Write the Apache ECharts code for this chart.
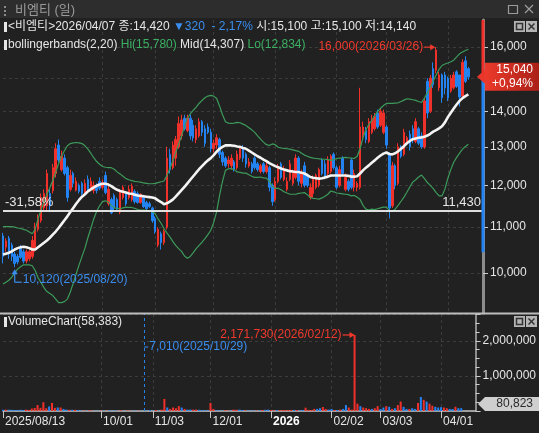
<!DOCTYPE html>
<html>
<head>
<meta charset="utf-8">
<script src="https://cdn.jsdelivr.net/npm/echarts@6/dist/echarts.min.js"></script>
<style>
  html, body { margin: 0; padding: 0; background: #212121; }
  #chart { width: 539px; height: 433px; }
</style>
</head>
<body>
<div id="chart"></div>
<script>
// trading calendar (KRX closed days inside the window)
const holidays = ['2025/08/15', '2025/10/03', '2025/10/06', '2025/10/07', '2025/10/08', '2025/10/09',
  '2025/12/25', '2025/12/31', '2026/01/01', '2026/02/16', '2026/02/17', '2026/02/18', '2026/03/02']
const slotCount = 165

const labelDates = ['2025/08/13', '2025/10/01', '2025/11/03', '2025/12/01', '2026/01/02', '2026/02/02', '2026/03/03', '2026/04/01']
const labelTexts = ['2025/08/13', '10/01', '11/03', '12/01', '2026', '02/02', '03/03', '04/01']

const priceTicks = [10000, 11000, 12000, 13000, 14000, 15000, 16000]

const opens = [
  10800, 10550, 10750, 10600, 10400, 10350, 10530, 10450, 10250, 10300,
  10350, 10500, 10950, 11150, 11450, 11500, 11800, 11870, 12300, 13050,
  12400, 12700, 12450, 11900, 12300, 11880, 12000, 12050, 11800, 12150,
  11900, 11870, 11950, 12100, 11950, 12250, 11550, 11650, 11750, 11650,
  11350, 11700, 11800, 11700, 11650, 11850, 11800, 11580, 11700, 11580,
  11550, 11450, 11200, 10600, 10850, 10650, 11000, 12800, 12450, 12700,
  13000, 13300, 13800, 13450, 13800, 13600, 13200, 13300, 13700, 13500,
  13550, 13400, 12950, 13050, 13200, 12850, 12700, 12550, 12500, 12600,
  12450, 12700, 12950, 12800, 12500, 12550, 12700, 12550, 12350, 12550,
  12350, 12450, 12000, 11650, 12100, 12550, 12150, 11900, 12150, 12050,
  12200, 12700, 12050, 12500, 12250, 11700, 11800, 11950, 12000, 12650,
  12550, 12300, 12350, 12800, 12450, 12000, 12700, 11900, 12100, 12650,
  11950, 11950, 11950, 13300, 13450, 13150, 13400, 13500, 13950, 13600,
  13400, 13550, 12800, 11500, 12500, 12050, 13000, 12800, 13100, 13350,
  13500, 13150, 13500, 13300, 13000, 14900, 14000, 15300, 15250, 14700,
  15100, 15100, 15000, 14600, 14700, 15200, 15100, 14450, 15550, 15300
]
const highs = [
  10870, 10750, 10800, 10650, 10450, 10400, 10600, 10500, 10500, 10500,
  10800, 11100, 11300, 11800, 11900, 12400, 11900, 12550, 13100, 13200,
  12900, 12800, 12500, 12400, 12350, 12200, 12050, 12100, 12150, 12250,
  12200, 12100, 12050, 12200, 12150, 12350, 12000, 11700, 11800, 11700,
  11900, 12000, 11850, 12000, 12050, 11900, 11850, 11800, 11750, 11620,
  11600, 11480, 11250, 11000, 10900, 10950, 13000, 12950, 13150, 13300,
  13850, 13900, 13900, 13900, 13900, 13750, 13600, 13800, 13750, 13600,
  13650, 13500, 13200, 13350, 13250, 12900, 12750, 12750, 12800, 12650,
  12900, 13000, 13050, 12850, 12700, 12600, 12750, 12600, 12550, 12600,
  12600, 12500, 12050, 12200, 12550, 12600, 12500, 12200, 12650, 12400,
  12800, 12750, 12400, 12600, 12300, 12050, 12250, 12300, 12450, 12700,
  12650, 12750, 12800, 12850, 12500, 12500, 12750, 12300, 12150, 12700,
  12400, 12100, 14700, 13700, 13550, 13800, 13900, 13950, 14050, 14100,
  14050, 13600, 12850, 12600, 12550, 13100, 13050, 13500, 13300, 13450,
  13600, 13800, 13550, 13400, 14400, 15000, 15100, 15500, 16000, 15200,
  15150, 15200, 15050, 15100, 15200, 15250, 15100, 15600, 15700, 15350
]
const lows = [
  10200, 10450, 10300, 10250, 10120, 10180, 10300, 10200, 10200, 10250,
  10300, 10450, 10900, 11100, 11400, 11380, 11350, 11800, 12200, 12600,
  12350, 12250, 11600, 11850, 11950, 11850, 11800, 11750, 11750, 11800,
  11850, 11800, 11800, 11880, 11900, 11780, 11500, 11300, 11400, 11380,
  11300, 11650, 11500, 11650, 11600, 11550, 11550, 11550, 11450, 11400,
  11450, 11100, 10850, 10550, 10500, 10600, 10950, 12300, 12400, 12500,
  12950, 13200, 13450, 13400, 13200, 13150, 13100, 13250, 13300, 13000,
  13350, 12850, 12850, 12950, 12700, 12500, 12450, 12450, 12400, 12350,
  12400, 12650, 12600, 12450, 12450, 12300, 12400, 12350, 12300, 12300,
  12300, 11850, 11500, 11600, 12050, 12150, 12100, 11850, 12100, 12000,
  12150, 12000, 11950, 11950, 11950, 11650, 11700, 11900, 11950, 12250,
  12150, 12250, 12300, 12400, 11900, 11950, 12250, 11850, 11850, 11900,
  11850, 11850, 11900, 13200, 13100, 13100, 13350, 13450, 13500, 13550,
  13350, 12950, 11200, 11450, 11900, 12000, 12700, 12750, 13050, 12900,
  13100, 13100, 13050, 12950, 12950, 13800, 13950, 14700, 15150, 14600,
  14250, 14500, 14300, 14550, 14650, 14700, 14140, 14400, 14850, 14950
]
const closes = [
  10350, 10690, 10400, 10350, 10200, 10230, 10330, 10250, 10450, 10450,
  10700, 11000, 11200, 11700, 11800, 12300, 11500, 12450, 12950, 12650,
  12750, 12300, 11700, 12250, 12050, 12100, 11850, 11800, 12050, 11850,
  12100, 12000, 11870, 11930, 12070, 11820, 11900, 11330, 11450, 11420,
  11850, 11950, 11550, 11900, 11980, 11600, 11580, 11780, 11480, 11430,
  11480, 11150, 10900, 10950, 10650, 10900, 12700, 12400, 13050, 13200,
  13650, 13750, 13500, 13800, 13300, 13250, 13500, 13700, 13400, 13100,
  13400, 12950, 13100, 13250, 12800, 12600, 12500, 12650, 12700, 12400,
  12800, 12950, 12700, 12550, 12600, 12350, 12450, 12400, 12500, 12350,
  12500, 11950, 11600, 12100, 12450, 12200, 12400, 12100, 12550, 12350,
  12700, 12100, 12300, 12000, 12000, 11950, 12150, 12250, 12400, 12300,
  12200, 12650, 12750, 12450, 11950, 12400, 12300, 12200, 11900, 11950,
  12300, 12050, 13550, 13550, 13200, 13700, 13800, 13850, 13550, 14000,
  13950, 13050, 11450, 12500, 12000, 13000, 12750, 13400, 13250, 13000,
  13200, 13700, 13100, 13000, 14300, 13950, 15000, 14800, 15900, 15100,
  14400, 14700, 14400, 15000, 15100, 14740, 14420, 15500, 14900, 15040
]
const volumes = [
  35000, 40000, 38000, 35000, 30000, 25000, 35000, 30000, 38000, 30000,
  70000, 85000, 170000, 90000, 250000, 80000, 130000, 230000, 90000, 100000,
  100000, 60000, 40000, 35000, 35000, 35000, 30000, 12000, 9000, 8000,
  20000, 9000, 8000, 8000, 9000, 12000, 8000, 20000, 9000, 18000,
  8000, 18000, 8000, 9000, 9000, 8000, 8000, 9000, 8000, 7010,
  9000, 25000, 12000, 28000, 12000, 40000, 345000, 100000, 60000, 100000,
  80000, 140000, 100000, 60000, 40000, 40000, 40000, 40000, 35000, 30000,
  20000, 15000, 230000, 60000, 20000, 15000, 12000, 15000, 12000, 12000,
  40000, 35000, 40000, 30000, 15000, 12000, 12000, 15000, 12000, 15000,
  30000, 35000, 40000, 25000, 20000, 30000, 25000, 30000, 30000, 25000,
  30000, 30000, 25000, 20000, 30000, 95000, 30000, 30000, 60000, 60000,
  80000, 115000, 60000, 40000, 60000, 30000, 30000, 40000, 60000, 170000,
  100000, 40000, 2171730, 210000, 140000, 100000, 80000, 60000, 60000, 80000,
  140000, 60000, 100000, 140000, 120000, 60000, 80000, 170000, 270000, 120000,
  60000, 60000, 80000, 60000, 230000, 400000, 320000, 270000, 210000, 150000,
  120000, 100000, 110000, 100000, 80000, 60000, 58383, 120000, 80000, 80823
]
// bollingerbands(2,20) as drawn
const bbUpper = [
  11010, 11010, 11010, 11010, 11000, 10980, 10970, 10950, 10930, 10890,
  10850, 10950, 11200, 11400, 11600, 11780, 11940, 12120, 12330, 12560,
  12740, 12900, 13030, 13090, 13110, 13120, 13110, 13090, 13030, 12940,
  12830, 12710, 12610, 12540, 12480, 12460, 12450, 12450, 12410, 12340,
  12290, 12230, 12170, 12140, 12120, 12100, 12090, 12080, 12060, 12050,
  12040, 12040, 12050, 12070, 12090, 12110, 12250, 12420, 12620, 12850,
  13080, 13300, 13560, 13790, 13930, 14030, 14120, 14230, 14320, 14400,
  14450, 14470, 14450, 14380, 14150, 13900, 13700, 13660, 13650, 13660,
  13680, 13670, 13630, 13590, 13530, 13470, 13400, 13300, 13210, 13130,
  13060, 13040, 13080, 13060, 12990, 12970, 12960, 12950, 12940, 12920,
  12900, 12880, 12830, 12780, 12750, 12720, 12700, 12690, 12680, 12670,
  12670, 12660, 12640, 12660, 12690, 12700, 12710, 12720, 12710, 12700,
  12690, 12750, 12950, 13250, 13480, 13620, 13740, 13870, 13990, 14090,
  14170, 14230, 14230, 14230, 14240, 14250, 14290, 14330, 14370, 14360,
  14340, 14320, 14290, 14260, 14390, 14550, 14720, 14920, 15100, 15280,
  15400, 15450, 15480, 15520, 15570, 15680, 15780, 15840, 15890, 15930
]
const bbMid = [
  10390, 10410, 10430, 10460, 10500, 10530, 10550, 10560, 10550, 10530,
  10500, 10500, 10550, 10600, 10650, 10700, 10760, 10830, 10900, 10980,
  11070, 11160, 11250, 11350, 11450, 11550, 11640, 11720, 11780, 11850,
  11900, 11950, 11990, 12020, 12040, 12040, 12020, 11980, 11930, 11890,
  11860, 11840, 11820, 11800, 11790, 11770, 11750, 11740, 11730, 11720,
  11710, 11700, 11680, 11630, 11590, 11540, 11560, 11600, 11650, 11720,
  11800, 11880, 11960, 12050, 12140, 12230, 12320, 12410, 12490, 12570,
  12640, 12700, 12780, 12870, 12950, 13000, 13040, 13040, 13040, 13030,
  13010, 13000, 12970, 12950, 12900, 12850, 12800, 12750, 12710, 12660,
  12620, 12570, 12530, 12490, 12460, 12430, 12400, 12380, 12360, 12350,
  12340, 12340, 12320, 12300, 12260, 12210, 12190, 12180, 12170, 12180,
  12200, 12220, 12250, 12250, 12250, 12250, 12250, 12250, 12240, 12220,
  12220, 12230, 12300, 12380, 12450, 12510, 12580, 12640, 12710, 12770,
  12820, 12850, 12810, 12800, 12830, 12880, 12950, 13020, 13100, 13160,
  13210, 13230, 13250, 13260, 13280, 13310, 13360, 13420, 13460, 13510,
  13570, 13680, 13830, 13960, 14080, 14200, 14307, 14390, 14450, 14500
]
const bbLower = [
  9770, 9810, 9850, 9910, 10000, 10080, 10130, 10170, 10170, 10170,
  10150, 10050, 9900, 9800, 9700, 9620, 9580, 9540, 9470, 9400,
  9400, 9420, 9470, 9610, 9790, 9980, 10170, 10350, 10530, 10760,
  10970, 11190, 11370, 11500, 11600, 11620, 11590, 11510, 11450, 11440,
  11430, 11450, 11470, 11460, 11460, 11440, 11410, 11400, 11400, 11390,
  11380, 11360, 11310, 11190, 11090, 10970, 10870, 10780, 10680, 10590,
  10520, 10460, 10360, 10310, 10350, 10430, 10520, 10590, 10660, 10740,
  10830, 10930, 11110, 11360, 11750, 12100, 12380, 12420, 12430, 12400,
  12340, 12330, 12310, 12310, 12270, 12230, 12200, 12200, 12210, 12190,
  12180, 12100, 11980, 11920, 11930, 11890, 11840, 11810, 11780, 11780,
  11780, 11800, 11810, 11820, 11770, 11700, 11680, 11670, 11660, 11690,
  11730, 11780, 11860, 11840, 11810, 11800, 11790, 11780, 11770, 11740,
  11750, 11710, 11650, 11510, 11420, 11400, 11420, 11410, 11430, 11450,
  11470, 11470, 11390, 11370, 11420, 11510, 11610, 11710, 11830, 11960,
  12080, 12140, 12210, 12260, 12170, 12070, 12000, 11920, 11820, 11740,
  11740, 11910, 12180, 12400, 12590, 12720, 12834, 12940, 13010, 13070
]

// annotations
const peak = { date: '2026/03/26', price: 16000 }
const trough = { date: '2025/08/20', price: 10120 }
const refLine = { price: 11430, pct: '-31,58%' }
const lastPrice = { price: 15040, change: '+0,94%' }
const askRangeLow = 10440
const volPeak = { date: '2026/02/12', value: 2171730 }
const volTrough = { date: '2025/10/29', value: 7010 }
const lastVolume = 80823

const FONT = "'Liberation Sans', 'Noto Sans CJK KR', sans-serif"
const UP = '#f0302a'
const DOWN = '#2383f0'
const BAND = '#3c9a5a'
const GRIDLINE = '#3c3c3c'

const dates = (() => {
  const out = []
  const d = new Date(2025, 7, 13)
  while (out.length < slotCount) {
    const s = `${d.getFullYear()}/${String(d.getMonth() + 1).padStart(2, '0')}/${String(d.getDate()).padStart(2, '0')}`
    const wd = d.getDay()
    if (wd !== 0 && wd !== 6 && !holidays.includes(s)) out.push(s)
    d.setDate(d.getDate() + 1)
  }
  return out
})()

const fmt = n => Math.round(n).toLocaleString('en-US')
const ln = Math.log
const isLabelDay = (i, v) => labelDates.includes(v)
const isSplitDay = (i, v) => labelDates.includes(v) && i > 0

const candles = opens.map((o, i) => [ln(o), ln(closes[i]), ln(lows[i]), ln(highs[i])])
const volumeBars = volumes.map((v, i) => ({
  value: v,
  itemStyle: { color: closes[i] >= opens[i] ? UP : DOWN }
}))

const yMin = ln(9200)
const yMax = ln(16930)
const volMax = 2771000

const chart = echarts.init(document.getElementById('chart'))

chart.setOption({
  animation: false,
  backgroundColor: '#212121',
  textStyle: { fontFamily: FONT },
  grid: [
    { left: 3, top: 20, width: 480, height: 293 },
    { left: 3, top: 314, width: 480, height: 97 }
  ],
  xAxis: [
    {
      type: 'category', gridIndex: 0, data: dates, boundaryGap: false,
      axisLine: { show: false }, axisTick: { show: false }, axisLabel: { show: false },
      splitLine: { show: true, interval: isSplitDay, lineStyle: { color: GRIDLINE, type: [3, 3] } }
    },
    {
      type: 'category', gridIndex: 1, data: dates, boundaryGap: false,
      axisLine: { lineStyle: { color: '#c4c4c4', width: 1.5 } },
      axisTick: { show: true, interval: isLabelDay, length: 7, lineStyle: { color: '#c4c4c4' } },
      axisLabel: {
        interval: isLabelDay, align: 'left', margin: 5, padding: [0, 0, 0, 2],
        formatter: v => {
          const t = labelTexts[labelDates.indexOf(v)]
          return t === '2026' ? '{b|' + t + '}' : '{n|' + t + '}'
        },
        rich: {
          n: { color: '#e6e6e6', fontSize: 12, fontFamily: FONT },
          b: { color: '#ffffff', fontSize: 12, fontWeight: 'bold', fontFamily: FONT }
        }
      },
      splitLine: { show: true, interval: isSplitDay, lineStyle: { color: GRIDLINE, type: [3, 3] } }
    }
  ],
  yAxis: [
    {
      type: 'value', gridIndex: 0, position: 'right', min: yMin, max: yMax,
      axisLine: { show: true, lineStyle: { color: '#8c8c8c', width: 3 } },
      axisTick: { show: true, customValues: priceTicks.map(ln), length: 5, lineStyle: { color: '#cccccc' } },
      axisLabel: {
        customValues: priceTicks.map(ln), margin: 7,
        formatter: v => fmt(Math.exp(v)), color: '#e6e6e6', fontSize: 12, fontFamily: FONT
      },
      splitLine: { show: true, lineStyle: { color: GRIDLINE, type: [3, 3] } }
    },
    {
      type: 'value', gridIndex: 1, position: 'right', min: 0, max: volMax, interval: 1000000,
      axisLine: { show: true, lineStyle: { color: '#8c8c8c', width: 2 } },
      axisTick: { show: true, length: 5, lineStyle: { color: '#cccccc' } },
      minorTick: { show: true, splitNumber: 4, length: 4, lineStyle: { color: '#cccccc' } },
      axisLabel: {
        margin: 7, showMinLabel: false, showMaxLabel: false,
        formatter: v => (v > 0 && v % 1000000 === 0 ? fmt(v) : ''),
        color: '#e6e6e6', fontSize: 12, fontFamily: FONT
      },
      splitLine: { show: true, lineStyle: { color: GRIDLINE, type: [3, 3] } }
    }
  ],
  series: [
    {
      type: 'candlestick', xAxisIndex: 0, yAxisIndex: 0, data: candles, barWidth: 2, z: 2,
      itemStyle: { color: UP, color0: DOWN, borderColor: UP, borderColor0: DOWN, borderWidth: 1 },
      markLine: {
        silent: true, symbol: ['none', 'none'],
        lineStyle: { color: '#ececec', width: 1.5, type: 'solid' },
        label: { color: '#e6e6e6', fontSize: 13, fontFamily: FONT, distance: 2 },
        data: [
          { yAxis: ln(refLine.price), label: { position: 'insideStartTop', formatter: refLine.pct } },
          { yAxis: ln(refLine.price), label: { position: 'insideEndTop', formatter: fmt(refLine.price) } }
        ]
      }
    },
    { type: 'line', xAxisIndex: 0, yAxisIndex: 0, data: bbUpper.map(ln), symbol: 'none', z: 3, lineStyle: { color: BAND, width: 1.2 } },
    { type: 'line', xAxisIndex: 0, yAxisIndex: 0, data: bbLower.map(ln), symbol: 'none', z: 3, lineStyle: { color: BAND, width: 1.2 } },
    { type: 'line', xAxisIndex: 0, yAxisIndex: 0, data: bbMid.map(ln), symbol: 'none', z: 4, lineStyle: { color: '#f4f4f4', width: 2.6 } },
    {
      type: 'bar', xAxisIndex: 1, yAxisIndex: 1, data: volumeBars, barWidth: 2, z: 2,
      markLine: {
        silent: true, symbol: ['none', 'none'], label: { show: false },
        lineStyle: { color: DOWN, width: 1, type: [3, 3] },
        data: [{ xAxis: volTrough.date }]
      }
    }
  ]
})

// overlay: header, annotations, value boxes
const idx = d => dates.indexOf(d)
const pricePx = (d, p) => chart.convertToPixel({ gridIndex: 0 }, [idx(d), ln(p)])
const volPx = (d, v) => chart.convertToPixel({ gridIndex: 1 }, [idx(d), v])
const priceY = p => chart.convertToPixel({ yAxisIndex: 0 }, ln(p))
const axisX = chart.convertToPixel({ xAxisIndex: 0 }, slotCount - 1)

const txt = (x, y, text, fill, size, align, extra) => ({
  type: 'text', x, y, silent: true, z: 100,
  style: Object.assign({ text, fill, font: size + 'px ' + FONT, align: align || 'left', textAlign: align || 'left', verticalAlign: 'middle', textVerticalAlign: 'middle' }, extra || {})
})
const rect = (x, y, w, h, fill, extra) => ({ type: 'rect', silent: true, z: 100, shape: { x, y, width: w, height: h }, style: Object.assign({ fill }, extra || {}) })
const line = (x1, y1, x2, y2, stroke, w) => ({ type: 'line', silent: true, z: 100, shape: { x1, y1, x2, y2 }, style: { stroke, lineWidth: w || 1 } })
const poly = (points, fill) => ({ type: 'polygon', silent: true, z: 100, shape: { points }, style: { fill } })

const paneIcons = y => [
  rect(514, y, 11, 11, '#b4b4b4'),
  rect(516.5, y + 2.5, 6, 6, 'none', { stroke: '#333', lineWidth: 1.5 }),
  rect(526, y, 11, 11, '#b4b4b4'),
  line(528.5, y + 2.5, 534.5, y + 8.5, '#333', 1.5),
  line(534.5, y + 2.5, 528.5, y + 8.5, '#333', 1.5)
]

const g = []
// title bar
g.push(rect(0, 0, 539, 18, '#2d2d2d'))
g.push(rect(4, 6, 2, 2, '#8a8a8a'), rect(4, 10, 2, 2, '#8a8a8a'), rect(4, 14, 2, 2, '#8a8a8a'))
g.push(txt(15, 10, '비엠티 (일)', '#9a9a9a', 13))
g.push(rect(508.5, 5.5, 9, 8, 'none', { stroke: '#9a9a9a', lineWidth: 1.2 }))
g.push(line(525, 5, 533, 13, '#9a9a9a', 1.2), line(533, 5, 525, 13, '#9a9a9a', 1.2))

// price pane header
g.push(rect(4, 22, 3, 10, '#e6e6e6'))
g.push(txt(8, 27, '{w|<비엠티>2026/04/07 종:14,420 }{b|▼320  - 2,17%}{w| 시:15,100 고:15,100 저:14,140}', '#e6e6e6', 12, 'left', {
  rich: { w: { fill: '#e6e6e6', font: '12px ' + FONT }, b: { fill: '#3a8ef0', font: '12px ' + FONT } }
}))
g.push(rect(4, 40, 3, 10, '#e6e6e6'))
g.push(txt(8, 45, '{w|bollingerbands(2,20) }{g|Hi(15,780)}{w| Mid(14,307) }{g|Lo(12,834)}', '#e6e6e6', 12, 'left', {
  rich: { w: { fill: '#e6e6e6', font: '12px ' + FONT }, g: { fill: '#3cb064', font: '12px ' + FONT } }
}))
g.push(...paneIcons(21))

// peak annotation
const pk = pricePx(peak.date, peak.price)
g.push(txt(pk[0] - 13, pk[1], fmt(peak.price) + '(' + peak.date + ')', '#f23a2c', 12, 'right'))
g.push(line(pk[0] - 12, pk[1], pk[0] - 2, pk[1], '#f23a2c', 1.2))
g.push(poly([[pk[0] - 1, pk[1]], [pk[0] - 6, pk[1] - 3], [pk[0] - 6, pk[1] + 3]], '#f23a2c'))

// trough annotation
const tr = pricePx(trough.date, trough.price)
g.push(poly([[tr[0], tr[1] + 2], [tr[0] - 3, tr[1] + 7], [tr[0] + 3, tr[1] + 7]], '#3a8ef0'))
g.push(line(tr[0], tr[1] + 6, tr[0], tr[1] + 15, '#3a8ef0', 1.2), line(tr[0], tr[1] + 15, tr[0] + 7, tr[1] + 15, '#3a8ef0', 1.2))
g.push(txt(tr[0] + 8, tr[1] + 12, fmt(trough.price) + '(' + trough.date + ')', '#3a8ef0', 12))

// price axis colouring and current price box
const topY = priceY(Math.exp(yMax))
const curY = priceY(lastPrice.price)
g.push(rect(axisX - 1.5, topY, 3, curY - topY, UP))
g.push(rect(axisX - 1.5, curY, 3, priceY(askRangeLow) - curY, DOWN))
g.push(poly([[axisX - 6, curY], [axisX + 2, curY - 7], [axisX + 2, curY + 7]], '#e8372a'))
g.push({
  type: 'rect', silent: true, z: 100,
  shape: { x: axisX + 2, y: curY - 14, width: 56, height: 28 },
  style: { fill: new echarts.graphic.LinearGradient(0, 0, 1, 0, [{ offset: 0, color: '#ec3a2b' }, { offset: 1, color: '#a81f16' }]) }
})
g.push(txt(533, curY - 7, fmt(lastPrice.price), '#ffffff', 12, 'right'))
g.push(txt(533, curY + 7, lastPrice.change, '#ffffff', 12, 'right'))

// volume pane
g.push(rect(0, 312.5, 539, 2, '#bdbdbd'))
g.push(rect(4, 317, 3, 10, '#e6e6e6'))
g.push(txt(8, 322, 'VolumeChart(' + fmt(volumes[idx('2026/04/07')]) + ')', '#e6e6e6', 12))
g.push(...paneIcons(316))

const vp = volPx(volPeak.date, volPeak.value)
g.push(txt(vp[0] - 13, vp[1], fmt(volPeak.value) + '(' + volPeak.date + ')', '#f23a2c', 12, 'right'))
g.push(line(vp[0] - 12, vp[1], vp[0] - 1, vp[1], '#f23a2c', 1.2))
g.push(poly([[vp[0], vp[1]], [vp[0] - 5, vp[1] - 3], [vp[0] - 5, vp[1] + 3]], '#f23a2c'))

const vt = volPx(volTrough.date, volTrough.value)
g.push(line(vt[0], 347, vt[0] + 4, 347, '#3a8ef0', 1))
g.push(txt(vt[0] + 5, 347, fmt(volTrough.value) + '(' + volTrough.date + ')', '#3a8ef0', 12))

const lvY = Math.min(volPx(dates[159], lastVolume)[1], 404)
g.push(poly([[axisX - 5, lvY], [axisX + 2, lvY - 7], [axisX + 2, lvY + 7]], '#cfcfcf'))
g.push(rect(axisX + 2, lvY - 7, 56, 14, '#cfcfcf'))
g.push(txt(533, lvY, fmt(lastVolume), '#2a2a2a', 12, 'right'))

chart.setOption({ graphic: g })
</script>
</body>
</html>
